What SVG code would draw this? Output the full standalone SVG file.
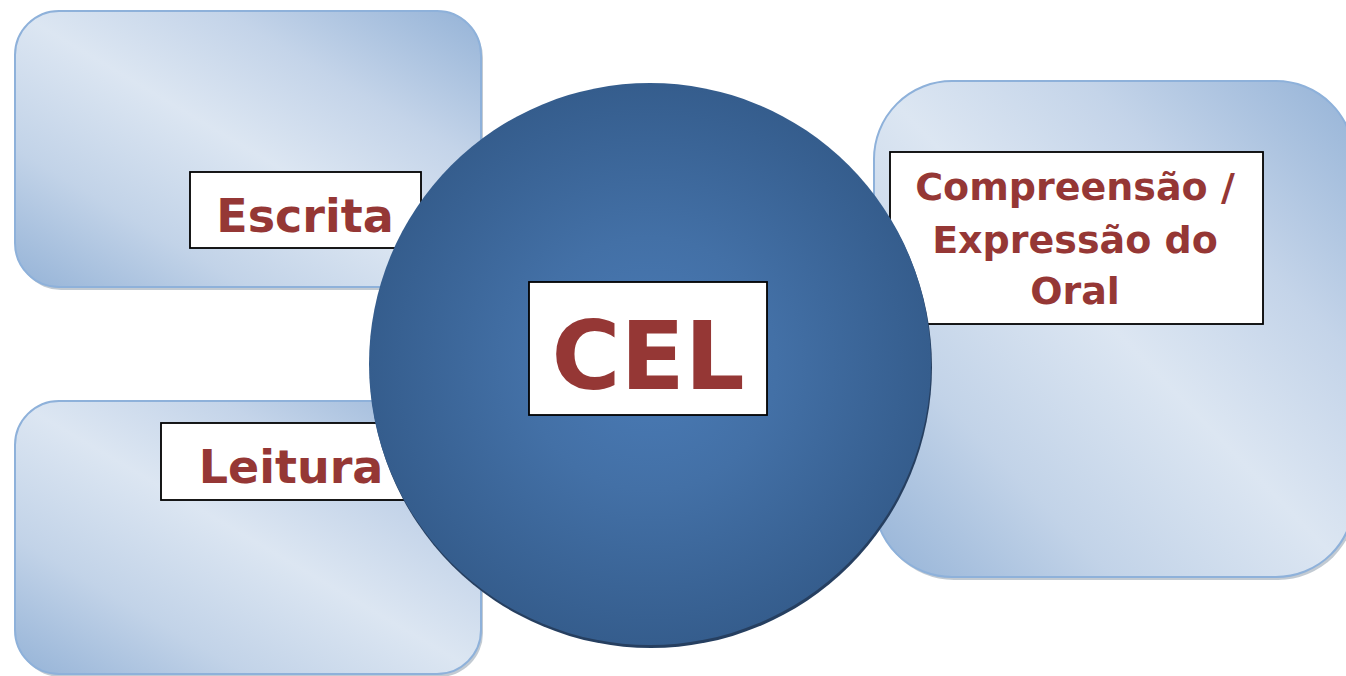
<svg xmlns="http://www.w3.org/2000/svg" width="1346" height="676" viewBox="0 0 1346 676">
<defs>
<linearGradient id="boxg" x1="0" y1="1" x2="1" y2="0">
<stop offset="0" stop-color="#95b3d7"/>
<stop offset="0.25" stop-color="#c2d3e8"/>
<stop offset="0.5" stop-color="#dce6f2"/>
<stop offset="0.72" stop-color="#c4d4e9"/>
<stop offset="1" stop-color="#95b3d7"/>
</linearGradient>
<radialGradient id="circg" cx="0.5" cy="0.5" r="0.5">
<stop offset="0" stop-color="#4a7bb6"/>
<stop offset="0.45" stop-color="#4370a6"/>
<stop offset="1" stop-color="#355d8d"/>
</radialGradient>
</defs>
<style>
.box{fill:url(#boxg);stroke:#8eb1da;stroke-width:2}
.shadow{fill:#9aa6b4;opacity:0.6}
.lab{fill:#ffffff;stroke:#000000;stroke-width:1.8}
.t{font-family:"DejaVu Sans",Verdana,sans-serif;font-weight:bold;fill:#953735;text-anchor:middle}
</style>
<rect width="1346" height="676" fill="#ffffff"/>
<g id="escrita">
<rect class="shadow" x="17" y="14" width="466" height="276" rx="44"/>
<rect class="box" x="15" y="11" width="466" height="276" rx="44"/>
<rect class="lab" x="190" y="172" width="231" height="76"/>
<text class="t" x="305" y="232" font-size="46">Escrita</text>
</g>
<g id="leitura">
<rect class="shadow" x="17" y="404" width="466" height="273" rx="44"/>
<rect class="box" x="15" y="401" width="466" height="273" rx="44"/>
<rect class="lab" x="161" y="423" width="245" height="77"/>
<text class="t" x="291" y="483" font-size="46">Leitura</text>
</g>
<g id="oral">
<rect class="shadow" x="876" y="84" width="480" height="496" rx="78"/>
<rect class="box" x="874" y="81" width="480" height="496" rx="78"/>
<rect class="lab" x="890" y="152" width="373" height="172"/>
<text class="t" x="1075" y="200" font-size="38">Compreensão /</text>
<text class="t" x="1075" y="253" font-size="38">Expressão do</text>
<text class="t" x="1075" y="304" font-size="38">Oral</text>
</g>
<g id="connectors"></g>
<g id="cel">
<circle cx="651" cy="367" r="281" fill="#263f60"/>
<circle cx="650" cy="364" r="281" fill="url(#circg)"/>
<rect class="lab" x="529" y="282" width="238" height="133"/>
<text class="t" x="648" y="389" font-size="94">CEL</text>
</g>
</svg>
